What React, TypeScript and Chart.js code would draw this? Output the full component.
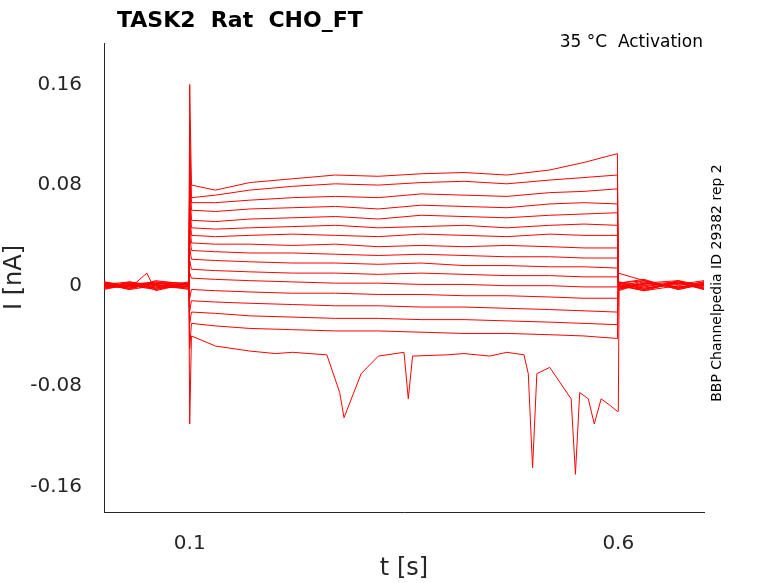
import React, { useEffect, useRef } from "react";
import { Chart, registerables } from "chart.js";
Chart.register(...registerables);

const T = [0, 0.03, 0.06, 0.099, 0.1, 0.102, 0.13, 0.17, 0.22, 0.27, 0.32, 0.37, 0.42, 0.47, 0.52, 0.56, 0.599, 0.6, 0.63, 0.67, 0.7];
const traces: number[][] = [
  [0.002, -0.003, 0.004, 0.001, 0.16, 0.08, 0.076, 0.082, 0.085, 0.088, 0.087, 0.089, 0.09, 0.088, 0.092, 0.098, 0.105, 0.01, 0.004, -0.002, 0.003],
  [-0.002, 0.003, -0.001, 0.002, 0.12, 0.07, 0.072, 0.076, 0.079, 0.081, 0.08, 0.082, 0.083, 0.081, 0.084, 0.086, 0.088, 0.0, -0.004, 0.003, -0.001],
  [0.001, -0.002, 0.002, -0.001, 0.1, 0.066, 0.066, 0.068, 0.07, 0.071, 0.07, 0.073, 0.072, 0.071, 0.074, 0.075, 0.077, 0.002, 0.005, -0.003, 0.002],
  [0.003, 0.0, -0.003, 0.002, 0.09, 0.06, 0.059, 0.061, 0.062, 0.063, 0.061, 0.064, 0.063, 0.062, 0.065, 0.066, 0.065, -0.003, 0.002, 0.004, -0.002],
  [-0.001, 0.002, 0.001, -0.002, 0.08, 0.052, 0.051, 0.053, 0.054, 0.055, 0.053, 0.056, 0.055, 0.054, 0.056, 0.057, 0.058, 0.003, -0.002, 0.001, 0.004],
  [0.002, -0.001, 0.003, 0.0, 0.07, 0.046, 0.045, 0.046, 0.047, 0.048, 0.046, 0.047, 0.048, 0.046, 0.048, 0.049, 0.048, -0.001, 0.004, -0.003, 0.001],
  [-0.003, 0.001, -0.002, 0.003, 0.06, 0.04, 0.039, 0.04, 0.041, 0.04, 0.039, 0.041, 0.04, 0.039, 0.041, 0.04, 0.04, 0.002, -0.003, 0.002, -0.002],
  [0.001, 0.003, 0.0, -0.001, 0.05, 0.034, 0.033, 0.033, 0.032, 0.033, 0.031, 0.032, 0.031, 0.032, 0.031, 0.03, 0.03, -0.002, 0.001, 0.003, 0.0],
  [0.0, -0.002, 0.002, 0.001, 0.04, 0.028, 0.027, 0.026, 0.026, 0.025, 0.024, 0.025, 0.024, 0.023, 0.023, 0.022, 0.022, 0.001, -0.004, 0.0, 0.003],
  [0.002, 0.0, -0.001, -0.002, 0.03, 0.021, 0.02, 0.019, 0.018, 0.018, 0.017, 0.018, 0.016, 0.016, 0.015, 0.015, 0.014, -0.003, 0.002, -0.001, 0.001],
  [-0.002, 0.001, 0.003, 0.002, 0.02, 0.013, 0.012, 0.011, 0.01, 0.01, 0.009, 0.01, 0.009, 0.008, 0.008, 0.007, 0.007, 0.003, 0.0, 0.002, -0.003],
  [0.001, -0.003, 0.0, 0.001, 0.01, 0.006, 0.005, 0.004, 0.003, 0.002, 0.002, 0.001, 0.001, 0.0, 0.0, -0.001, -0.001, 0.0, -0.003, 0.004, 0.0],
  [-0.001, 0.002, -0.002, 0.0, -0.01, -0.003, -0.004, -0.005, -0.006, -0.006, -0.007, -0.007, -0.008, -0.008, -0.009, -0.01, -0.01, -0.002, 0.003, -0.002, 0.002],
  [0.003, -0.001, 0.001, -0.003, -0.02, -0.012, -0.013, -0.014, -0.015, -0.016, -0.016, -0.017, -0.017, -0.018, -0.019, -0.02, -0.021, 0.002, -0.001, 0.003, -0.003],
  [0.0, 0.002, -0.003, 0.002, -0.03, -0.021, -0.022, -0.024, -0.025, -0.026, -0.026, -0.027, -0.027, -0.028, -0.029, -0.03, -0.031, -0.004, 0.002, -0.001, 0.001],
  [-0.002, 0.0, 0.002, -0.001, -0.05, -0.03, -0.032, -0.034, -0.035, -0.036, -0.036, -0.037, -0.038, -0.038, -0.039, -0.04, -0.042, 0.001, -0.002, 0.002, -0.002],
];
const TQ = [0, 0.03, 0.05, 0.06, 0.099, 0.1, 0.102, 0.13, 0.17, 0.2, 0.22, 0.26, 0.27, 0.275, 0.28, 0.3, 0.32, 0.35, 0.355, 0.36, 0.4, 0.42, 0.45, 0.47, 0.49, 0.495, 0.5, 0.505, 0.52, 0.53, 0.545, 0.55, 0.555, 0.565, 0.572, 0.58, 0.59, 0.599, 0.6, 0.601, 0.63, 0.67, 0.7];
const traceQ = [0.001, -0.002, 0.01, -0.004, 0.002, -0.11, -0.04, -0.048, -0.052, -0.054, -0.053, -0.055, -0.075, -0.085, -0.105, -0.07, -0.056, -0.053, -0.09, -0.056, -0.055, -0.054, -0.056, -0.053, -0.055, -0.07, -0.145, -0.07, -0.065, -0.075, -0.09, -0.15, -0.085, -0.09, -0.11, -0.09, -0.095, -0.1, -0.1, 0.002, 0.004, -0.002, 0.001];

const YTICKS = [-0.16, -0.08, 0, 0.08, 0.16];
const XTICKS = [0.1, 0.6];

export default function App() {
  const ref = useRef<HTMLCanvasElement>(null);
  useEffect(() => {
    const font = "DejaVu Sans";
    const ds = traces.map((tr) => ({
      data: tr.map((v, i) => ({ x: T[i], y: v })),
      borderColor: "#ff0000", borderWidth: 1, pointRadius: 0, fill: false,
    }));
    ds.push({ data: traceQ.map((v, i) => ({ x: TQ[i], y: v })), borderColor: "#ff0000", borderWidth: 1, pointRadius: 0, fill: false });
    const textPlugin = {
      id: "txt",
      afterDraw(c: any) {
        const ctx = c.ctx;
        ctx.save();
        ctx.fillStyle = "#000";
        ctx.font = `bold 22px ${font}`;
        ctx.textBaseline = "alphabetic"; ctx.textAlign = "left";
        ctx.fillText("TASK2  Rat  CHO_FT", 117, 27);
        ctx.font = `17px ${font}`; ctx.textAlign = "right";
        ctx.fillText("35 °C  Activation", 703, 47);
        ctx.translate(721, 283); ctx.rotate(-Math.PI / 2);
        ctx.font = `14px ${font}`; ctx.textAlign = "center";
        ctx.fillText("BBP Channelpedia ID 29382 rep 2", 0, 0);
        ctx.restore();
      },
    };
    const chart = new Chart(ref.current!, {
      type: "line",
      data: { datasets: ds as any },
      options: {
        animation: false, responsive: false,
        layout: { padding: { top: 43, right: 74, left: 0, bottom: 0 } },
        plugins: { legend: { display: false }, tooltip: { enabled: false } },
        scales: {
          x: {
            type: "linear", min: 0, max: 0.7,
            afterBuildTicks: (s: any) => { s.ticks = XTICKS.map((v) => ({ value: v })); },
            afterFit: (s: any) => { s.height = 71; },
            grid: { display: false },
            border: { color: "#262626" },
            ticks: { color: "#262626", font: { family: font, size: 20 }, maxRotation: 0, padding: 12, callback: (v: any) => String(v) },
            title: { display: true, text: "t [s]", color: "#262626", font: { family: font, size: 24 }, padding: 0 },
          },
          y: {
            type: "linear", min: -0.18, max: 0.193,
            afterBuildTicks: (s: any) => { s.ticks = YTICKS.map((v) => ({ value: v })); },
            afterFit: (s: any) => { s.width = 104; },
            grid: { display: false },
            border: { color: "#262626" },
            ticks: { color: "#262626", font: { family: font, size: 20 }, padding: 14, callback: (v: any) => (v === 0 ? "0" : String(v)) },
            title: { display: true, text: "I [nA]", color: "#262626", font: { family: font, size: 24 }, padding: 0 },
          },
        },
      },
      plugins: [textPlugin],
    });
    return () => chart.destroy();
  }, []);
  return (
    <div style={{ position: "fixed", left: 0, top: 0, width: 778, height: 583, background: "#fff" }}>
      <canvas ref={ref} width={778} height={583} style={{ width: 778, height: 583 }} />
    </div>
  );
}
